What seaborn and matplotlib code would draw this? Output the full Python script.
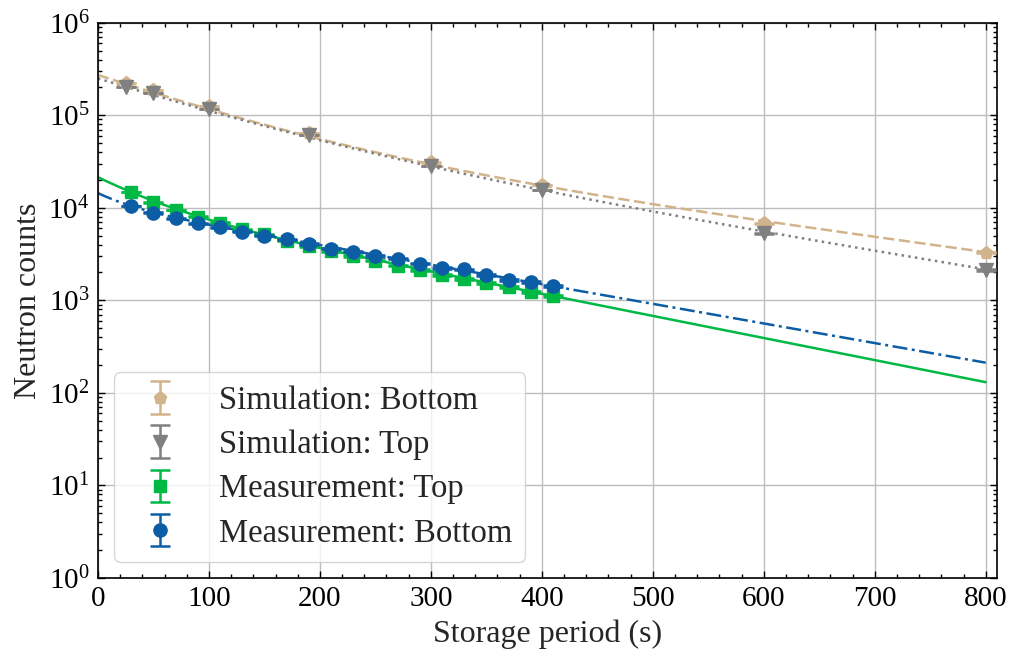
import numpy as np
import pandas as pd
import seaborn as sns
import matplotlib
matplotlib.use("Agg")
import matplotlib.pyplot as plt
from matplotlib.ticker import MultipleLocator, LogLocator, NullFormatter

# Simulated neutron counts after storage
sim_time = [25, 50, 100, 190, 300, 400, 600, 800]
sim_bottom = [2.23e5, 1.87e5, 1.26e5, 6.4e4, 3.1e4, 1.76e4, 6.8e3, 3.27e3]
sim_top = [2.02e5, 1.75e5, 1.17e5, 6.1e4, 2.83e4, 1.56e4, 5.3e3, 2.11e3]

# Measured neutron counts after storage
meas_time = [30, 50, 70, 90, 110, 130, 150, 170, 190, 210,
             230, 250, 270, 290, 310, 330, 350, 370, 390, 410]
meas_top = [1.48e4, 1.15e4, 9.47e3, 8.0e3, 6.9e3, 5.85e3, 5.17e3, 4.41e3, 3.87e3, 3.41e3,
            3.01e3, 2.68e3, 2.37e3, 2.13e3, 1.89e3, 1.69e3, 1.53e3, 1.38e3, 1.23e3, 1.11e3]
meas_bottom = [1.045e4, 8.86e3, 7.69e3, 6.79e3, 6.15e3, 5.52e3, 4.99e3, 4.56e3, 4.06e3, 3.61e3,
               3.35e3, 3.02e3, 2.82e3, 2.49e3, 2.24e3, 2.16e3, 1.86e3, 1.66e3, 1.58e3, 1.42e3]

# Double-exponential fit parameters: (A1, tau1, A2, tau2)
fit_sim_bottom = (2.1e5, 95.0, 6.2e4, 272.0)
fit_sim_top = (1.76e5, 99.0, 7.38e4, 225.0)
fit_meas_top = (1.08e4, 48.0, 1.058e4, 182.0)
fit_meas_bottom = (3.9e3, 29.0, 1.05e4, 205.0)

labels = ["Simulation: Bottom", "Simulation: Top", "Measurement: Top", "Measurement: Bottom"]
colors = ["#D2B48C", "#808080", "#00B945", "#0C5DA5"]


def double_exp(t, a1, t1, a2, t2):
    return a1 * np.exp(-t / t1) + a2 * np.exp(-t / t2)


sns.set_style("ticks")
plt.rcParams["font.family"] = ["Liberation Serif", "DejaVu Serif"]
plt.rcParams["mathtext.fontset"] = "custom"
plt.rcParams["mathtext.rm"] = "Liberation Serif"
plt.rcParams["mathtext.it"] = "Liberation Serif:italic"
plt.rcParams["font.size"] = 21

fig, ax = plt.subplots(figsize=(10.13, 6.61), dpi=100)
fig.subplots_adjust(left=0.0967, right=0.984, top=0.9657, bottom=0.1256)

# Fit curves
t_fit = np.linspace(0, 800, 400)
fit_specs = [
    (fit_sim_bottom, colors[0], (0, (4.5, 1.8))),
    (fit_sim_top, colors[1], (0, (1, 1.7))),
    (fit_meas_top, colors[2], "-"),
    (fit_meas_bottom, colors[3], (0, (6.0, 1.8, 1.2, 1.8))),
]
for params, col, ls in fit_specs:
    fit_df = pd.DataFrame({"t": t_fit, "n": double_exp(t_fit, *params)})
    sns.lineplot(data=fit_df, x="t", y="n", ax=ax, color=col, linestyle=ls,
                 linewidth=1.8, legend=False, zorder=2)

# Data points with Poisson counting uncertainty
series = [
    (sim_time, sim_bottom, "p", 9.5),
    (sim_time, sim_top, "v", 9.5),
    (meas_time, meas_top, "s", 8.5),
    (meas_time, meas_bottom, "o", 9.5),
]
handles = []
for (t, n, mk, ms), col, lab in zip(series, colors, labels):
    n = np.asarray(n)
    h = ax.errorbar(t, n, yerr=np.sqrt(n), fmt=mk, color=col, markersize=ms,
                    capsize=7.5, capthick=1.8, elinewidth=1.8, label=lab, zorder=3)
    handles.append(h)

ax.set_yscale("log")
ax.set_ylim(1, 1e6)
ax.set_xlim(0, 810)
ax.xaxis.set_major_locator(MultipleLocator(100))
ax.xaxis.set_minor_locator(MultipleLocator(20))
ax.yaxis.set_major_locator(LogLocator(base=10, numticks=10))
ax.yaxis.set_minor_locator(LogLocator(base=10, subs=np.arange(2, 10), numticks=20))
ax.yaxis.set_minor_formatter(NullFormatter())

ax.grid(True, which="major", color="#bdbdbd", linewidth=1.0)
ax.set_axisbelow(True)
ax.tick_params(which="both", direction="in", top=True, right=True, width=1.0,
               colors="black", labelsize=21, pad=6)
ax.tick_params(which="major", length=5)
ax.tick_params(which="minor", length=3)
for sp in ax.spines.values():
    sp.set_linewidth(1.2)
    sp.set_color("black")

ax.set_xlabel("Storage period (s)", fontsize=23, labelpad=5)
ax.set_ylabel("Neutron counts", fontsize=23, labelpad=4)

ax.legend(handles=handles, labels=labels, loc="lower left", fontsize=23.5,
          labelspacing=0.42, borderpad=0.4, handletextpad=0.8,
          frameon=True, fancybox=True, framealpha=0.8, edgecolor="#cccccc")

fig.savefig("out.png", dpi=100)
